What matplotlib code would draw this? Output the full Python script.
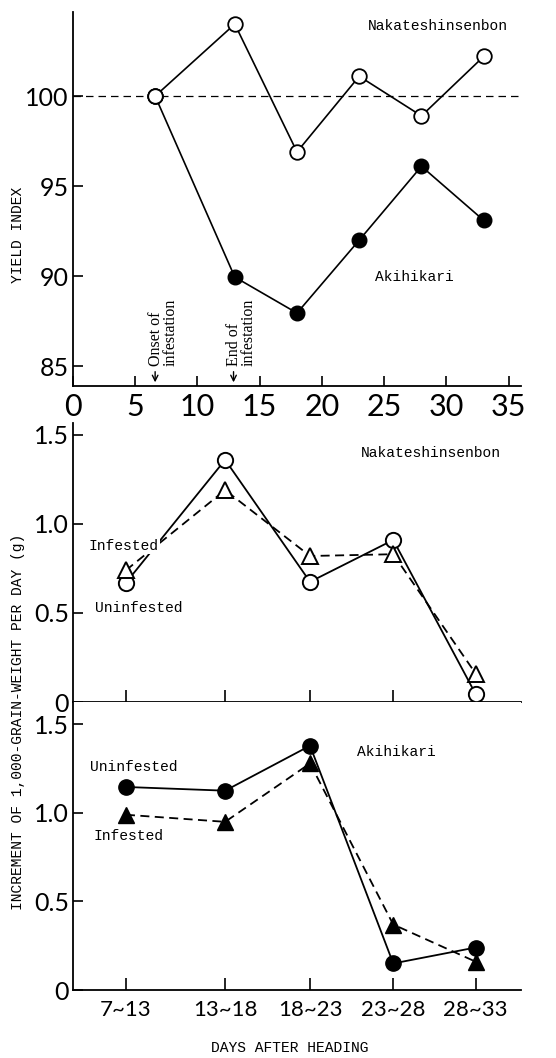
#!/usr/bin/env python3
"""
Yield index and daily increment of 1,000-grain weight for two rice
cultivars (Nakateshinsenbon, Akihikari), infested vs uninfested.
"""
import matplotlib
matplotlib.use("Agg")
import matplotlib.pyplot as plt

# ---- top panel: yield index vs day of infestation start
DAYS = [6.6, 13, 18, 23, 28, 33]
NAKATE_INDEX = [100, 104.0, 96.9, 101.1, 98.9, 102.2]
AKIHIKARI_INDEX = [100, 89.95, 87.95, 92.0, 96.1, 93.1]
ONSET_DAY = 6.6
END_DAY = 12.9

# ---- lower panels: increment per day by period
PERIODS = ["7~13", "13~18", "18~23", "23~28", "28~33"]
PERIOD_POS = [0.63, 1.81, 2.82, 3.81, 4.79]
NAKATE_UNINF = [0.67, 1.36, 0.675, 0.91, 0.045]
NAKATE_INF = [0.74, 1.19, 0.82, 0.83, 0.16]
AKI_UNINF = [1.147, 1.126, 1.38, 0.15, 0.24]
AKI_INF = [0.99, 0.95, 1.28, 0.37, 0.16]

W, H = 556, 1058
MONO = "Liberation Mono"
NUMFAM = "Lato"


def px_axes(fig, left, right, top, bottom):
    return fig.add_axes([left / W, 1 - bottom / H,
                         (right - left) / W, (bottom - top) / H])


def style(ax):
    for s in ("top", "right"):
        ax.spines[s].set_visible(False)
    for s in ("left", "bottom"):
        ax.spines[s].set_linewidth(1.3)
    ax.tick_params(direction="in", length=7, width=1.2, pad=3)


def set_fam(labels, fam):
    for lab in labels:
        lab.set_family(fam)


def main():
    fig = plt.figure(figsize=(W / 100, H / 100), dpi=100)

    # ---------------- top panel
    ax1 = px_axes(fig, 73, 521, 12, 386)
    style(ax1)
    ax1.axhline(100, color="k", lw=0.9, ls=(0, (6, 4)), zorder=1)
    ax1.plot(DAYS, NAKATE_INDEX, "-o", color="k", lw=1.2, ms=10.5,
             mfc="white", mec="k", mew=1.3, zorder=3)
    ax1.plot(DAYS, AKIHIKARI_INDEX, "-o", color="k", lw=1.2, ms=10.5,
             mfc="k", mec="k", zorder=3)
    ax1.plot([DAYS[0]], [AKIHIKARI_INDEX[0]], "o", ms=10.5, mfc="white",
             mec="k", mew=1.3, zorder=4)
    ax1.set_xlim(0, 36)
    ax1.set_ylim(83.9, 104.67)
    ax1.set_xticks([0, 5, 10, 15, 20, 25, 30, 35])
    ax1.set_yticks([85, 90, 95, 100])
    ax1.tick_params(axis="x", labelsize=22, pad=5)
    ax1.tick_params(axis="y", labelsize=18)
    set_fam(ax1.get_xticklabels() + ax1.get_yticklabels(), NUMFAM)
    ax1.text(23.7, 103.9, "Nakateshinsenbon", family=MONO, fontsize=10.5,
             va="center")
    ax1.text(24.3, 89.95, "Akihikari", family=MONO, fontsize=10.5,
             va="center")
    for d, lbl in ((ONSET_DAY, "Onset of\ninfestation"),
                   (END_DAY, "End of\ninfestation")):
        ax1.annotate("", xy=(d, 83.95), xytext=(d, 84.85),
                     arrowprops=dict(arrowstyle="->", color="k", lw=1.0))
        ax1.text(d - 0.6, 85.0, lbl, family="Liberation Serif",
                 fontsize=11.5, rotation=90, ha="left", va="bottom",
                 linespacing=0.9)

    # ---------------- middle panel
    ax2 = px_axes(fig, 73, 521, 423, 702)
    style(ax2)
    ax2.plot(PERIOD_POS, NAKATE_UNINF, "-o", color="k", lw=1.3, ms=11,
             mfc="white", mec="k", mew=1.4, zorder=3)
    ax2.plot(PERIOD_POS, NAKATE_INF, "--^", color="k", lw=1.3, ms=12,
             mfc="white", mec="k", mew=1.4, dashes=(5, 3), zorder=3)
    ax2.set_xlim(0, 5.33)
    ax2.set_ylim(0, 1.567)
    ax2.set_xticks(PERIOD_POS)
    ax2.set_xticklabels([])
    ax2.set_yticks([0, 0.5, 1.0, 1.5])
    ax2.set_yticklabels(["0", "0.5", "1.0", "1.5"])
    ax2.tick_params(axis="y", labelsize=18)
    ax2.tick_params(axis="x", length=9)
    set_fam(ax2.get_yticklabels(), NUMFAM)
    ax2.text(3.42, 1.40, "Nakateshinsenbon", family=MONO, fontsize=10.5,
             va="center")
    ax2.text(0.18, 0.876, "Infested", family=MONO, fontsize=10.5,
             va="center", zorder=5,
             bbox=dict(fc="white", ec="none", pad=1))
    ax2.text(0.26, 0.53, "Uninfested", family=MONO, fontsize=10.5,
             va="center")

    # ---------------- bottom panel
    ax3 = px_axes(fig, 73, 521, 702, 990)
    style(ax3)
    ax3.plot(PERIOD_POS, AKI_UNINF, "-o", color="k", lw=1.3, ms=11,
             mfc="k", mec="k", zorder=3)
    ax3.plot(PERIOD_POS, AKI_INF, "--^", color="k", lw=1.3, ms=12,
             mfc="k", mec="k", dashes=(5, 3), zorder=3)
    ax3.set_xlim(0, 5.33)
    ax3.set_ylim(0, 1.627)
    ax3.set_xticks(PERIOD_POS)
    ax3.set_xticklabels(PERIODS)
    ax3.set_yticks([0, 0.5, 1.0, 1.5])
    ax3.set_yticklabels(["0", "0.5", "1.0", "1.5"])
    ax3.tick_params(axis="y", labelsize=18)
    ax3.tick_params(axis="x", length=9, labelsize=16, pad=7)
    set_fam(ax3.get_yticklabels() + ax3.get_xticklabels(), NUMFAM)
    ax3.text(3.38, 1.345, "Akihikari", family=MONO, fontsize=10.5,
             va="center")
    ax3.text(0.20, 1.26, "Uninfested", family=MONO, fontsize=10.5,
             va="center")
    ax3.text(0.24, 0.87, "Infested", family=MONO, fontsize=10.5,
             va="center")

    # ---------------- axis titles
    fig.text(18 / W, 1 - 235 / H, "YIELD INDEX", family=MONO,
             fontsize=10.5, rotation=90, ha="center", va="center")
    fig.text(18 / W, 1 - 722 / H,
             "INCREMENT OF 1,000-GRAIN-WEIGHT PER DAY (g)", family=MONO,
             fontsize=10.5, rotation=90, ha="center", va="center")
    fig.text(290 / W, 1 - 1048 / H, "DAYS AFTER HEADING", family=MONO,
             fontsize=10.5, ha="center", va="center")

    fig.savefig("out.png", dpi=100)


if __name__ == "__main__":
    main()
